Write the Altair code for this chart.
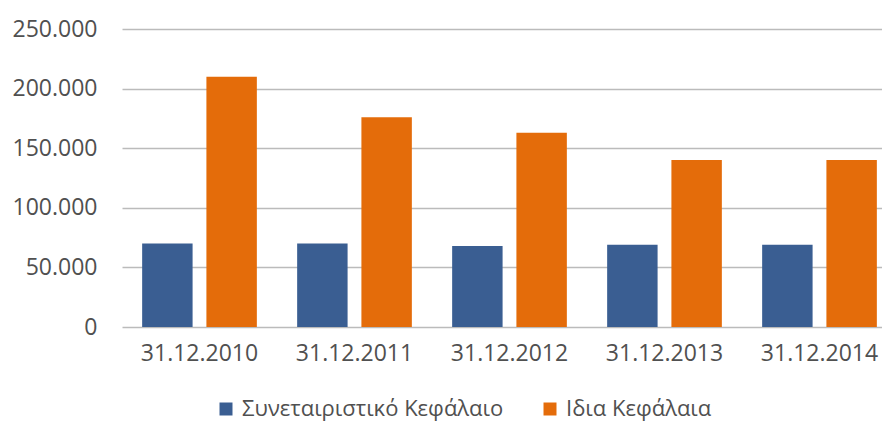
import altair as alt
import pandas as pd

dates = ["31.12.2010", "31.12.2011", "31.12.2012", "31.12.2013", "31.12.2014"]
series_names = ["Συνεταιριστικό Κεφάλαιο", "Ιδια Κεφάλαια"]
coop_capital = [70000, 70000, 68000, 69000, 69000]
own_funds = [210000, 176000, 163000, 140000, 140000]
colors = ["#3A5E92", "#E46C0A"]

rows = []
for d, a, b in zip(dates, coop_capital, own_funds):
    rows.append({"date": d, "series": series_names[0], "value": a})
    rows.append({"date": d, "series": series_names[1], "value": b})
df = pd.DataFrame(rows)

FONT = "Open Sans"
TXT = "#505050"

chart = alt.Chart(df).mark_bar(clip=True).encode(
    x=alt.X("date:N", sort=dates, title=None,
            scale=alt.Scale(range=[0, 775], paddingInner=0.26, paddingOuter=0.13),
            axis=alt.Axis(labelAngle=0, domain=False, ticks=False, labelPadding=15,
                          labelFontSize=23, labelFont=FONT, labelColor=TXT)),
    xOffset=alt.XOffset("series:N", sort=series_names,
                        scale=alt.Scale(paddingInner=0.215, paddingOuter=0)),
    y=alt.Y("value:Q", title=None,
            scale=alt.Scale(domain=[0, 250000], nice=False),
            axis=alt.Axis(values=[0, 50000, 100000, 150000, 200000, 250000],
                          labelExpr="replace(format(datum.value, ','), ',', '.')",
                          domain=False, ticks=False, labelPadding=25,
                          labelFontSize=23, labelFont=FONT, labelColor=TXT,
                          gridColor="#BBBBBB", gridWidth=1.5)),
    color=alt.Color("series:N", sort=series_names, title=None,
                    scale=alt.Scale(domain=series_names, range=colors),
                    legend=alt.Legend(orient="none", legendX=93, legendY=369,
                                      direction="horizontal", symbolType="square",
                                      symbolSize=169, symbolStrokeWidth=0,
                                      labelFontSize=22, labelFont=FONT, labelColor=TXT,
                                      labelOffset=5, columnPadding=35, labelLimit=500)),
).properties(
    width=760, height=298,
    autosize=alt.AutoSizeParams(type="none"),
    padding={"left": 122, "top": 29, "right": 0, "bottom": 96},
).configure_view(stroke=None)

chart.save("out.html", embed_options={"renderer": "svg", "actions": False})
